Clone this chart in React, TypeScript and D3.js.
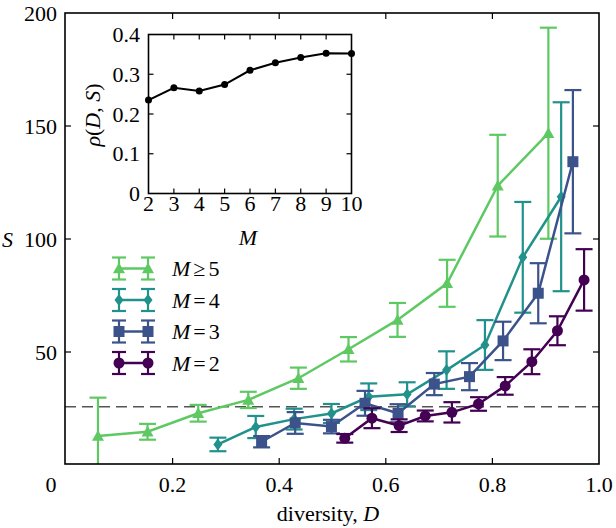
import React from "react";
import * as d3 from "d3";

// ---- Data ----
const seriesNames = ["M≥5", "M=4", "M=3", "M=2"];

const d5 = [0.06, 0.153, 0.248, 0.342, 0.436, 0.530, 0.622, 0.715, 0.810, 0.905];
const s5 = [12.8, 14.7, 22.9, 28.8, 38.4, 51.2, 64.2, 80.4, 123.6, 146.8];
const e5 = [17, 3.5, 3.7, 3.6, 4.7, 5.4, 7.5, 10.4, 22.5, 46.7];

const d4 = [0.285, 0.356, 0.428, 0.498, 0.568, 0.640, 0.714, 0.786, 0.857, 0.929];
const s4 = [9.1, 16.8, 20.3, 22.8, 30.2, 31.3, 42.0, 53.1, 91.9, 118.7];
const e4 = [3.0, 4.9, 4.6, 4.2, 5.9, 5.3, 8.3, 11.0, 24.5, 41.8];

const d3v = [0.367, 0.430, 0.498, 0.561, 0.623, 0.691, 0.757, 0.820, 0.886, 0.951];
const s3 = [10.3, 18.6, 17.0, 27.3, 22.9, 35.8, 39.1, 54.9, 76.0, 134.2];
const e3 = [2.5, 4.8, 3.0, 5.5, 4.0, 4.9, 6.0, 8.5, 13.3, 31.7];

const d2 = [0.523, 0.574, 0.625, 0.674, 0.724, 0.774, 0.824, 0.874, 0.922, 0.972];
const s2 = [11.8, 20.7, 17.4, 21.7, 23.3, 27.0, 35.0, 45.7, 59.4, 81.9];
const e2 = [1.9, 4.4, 2.8, 2.4, 4.5, 3.0, 3.9, 5.5, 6.4, 13.6];

const refLine = 25.8;

const insetM = [2, 3, 4, 5, 6, 7, 8, 9, 10];
const insetRho = [0.235, 0.266, 0.258, 0.274, 0.310, 0.329, 0.342, 0.353, 0.352];

const xTicks = [0.2, 0.4, 0.6, 0.8, 1.0];
const xTickLabels = ["0.2", "0.4", "0.6", "0.8", "1.0"];
const yTicks = [50, 100, 150, 200];
const insetYTicks = [0, 0.1, 0.2, 0.3, 0.4];
const insetYTickLabels = ["0", "0.1", "0.2", "0.3", "0.4"];

const colors = ["#5ec962", "#21918c", "#3b528b", "#440154"];
const markers = ["triangle", "diamond", "square", "circle"];

const FONT = "Liberation Serif, Times New Roman, serif";

function Marker({ type, x, y, color }: { type: string; x: number; y: number; color: string }) {
  if (type === "circle") return <circle cx={x} cy={y} r={5.5} fill={color} />;
  if (type === "square") return <rect x={x - 5.5} y={y - 5.5} width={11} height={11} fill={color} />;
  if (type === "diamond") {
    const r = 6;
    return <path d={`M${x},${y - r}L${x + r * 0.75},${y}L${x},${y + r}L${x - r * 0.75},${y}Z`} fill={color} />;
  }
  const r = 6;
  return <path d={`M${x},${y - r}L${x + r},${y + r * 0.8}L${x - r},${y + r * 0.8}Z`} fill={color} />;
}

export default function App() {
  const W = 616, H = 528;
  const L = 65, T = 13, R = 599, B = 464;
  const x = d3.scaleLinear().domain([0, 1]).range([66, 599]);
  const y = d3.scaleLinear().domain([0, 200]).range([465, 13]);

  const ix = d3.scaleLinear().domain([2, 10]).range([148.5, 351.5]);
  const iy = d3.scaleLinear().domain([0, 0.4]).range([193.5, 34.5]);

  const series = [
    { d: d5, s: s5, e: e5 },
    { d: d4, s: s4, e: e4 },
    { d: d3v, s: s3, e: e3 },
    { d: d2, s: s2, e: e2 },
  ];

  const line = d3.line<[number, number]>().x((p) => x(p[0])).y((p) => y(p[1]));
  const iline = d3.line<[number, number]>().x((p) => ix(p[0])).y((p) => iy(p[1]));
  const cap = 8.5;
  const lcap = 7;
  const tk = 6;
  const fs = 22;
  const dy = 7.5;

  const legendRows = [268.5, 300, 331.5, 363];

  return (
    <svg width={W} height={H} style={{ position: "absolute", left: 0, top: 0, fontFamily: FONT }}>
      <defs>
        <clipPath id="plotclip">
          <rect x={L} y={T} width={R - L} height={B - T} />
        </clipPath>
      </defs>
      <rect x={0} y={0} width={W} height={H} fill="white" />

      {/* dashed reference */}
      <line x1={L} x2={R} y1={y(refLine)} y2={y(refLine)} stroke="#555" strokeWidth={1.6} strokeDasharray="11,6" />

      {/* series */}
      <g clipPath="url(#plotclip)">
        {series.map((sr, i) => {
          const pts = sr.d.map((dv, j) => [dv, sr.s[j]] as [number, number]);
          return (
            <g key={i}>
              {sr.d.map((dv, j) => {
                const cx = x(dv);
                const y1 = y(sr.s[j] + sr.e[j]);
                const y0 = y(sr.s[j] - sr.e[j]);
                return (
                  <g key={j} stroke={colors[i]} strokeWidth={2.2}>
                    <line x1={cx} x2={cx} y1={y1} y2={y0} />
                    <line x1={cx - cap} x2={cx + cap} y1={y1} y2={y1} />
                    <line x1={cx - cap} x2={cx + cap} y1={y0} y2={y0} />
                  </g>
                );
              })}
              <path d={line(pts) || ""} fill="none" stroke={colors[i]} strokeWidth={2.5} />
              {pts.map((p, j) => (
                <Marker key={j} type={markers[i]} x={x(p[0])} y={y(p[1])} color={colors[i]} />
              ))}
            </g>
          );
        })}
      </g>

      {/* main frame */}
      <rect x={L} y={T} width={R - L} height={B - T} fill="none" stroke="#000" strokeWidth={1.6} />
      {xTicks.slice(0, 4).map((t) => (
        <g key={t} stroke="#000" strokeWidth={1.2}>
          <line x1={x(t)} x2={x(t)} y1={B} y2={B - tk} />
          <line x1={x(t)} x2={x(t)} y1={T} y2={T + tk} />
        </g>
      ))}
      {yTicks.slice(0, 3).map((t) => (
        <g key={t} stroke="#000" strokeWidth={1.2}>
          <line x1={L} x2={L + tk} y1={y(t)} y2={y(t)} />
          <line x1={R} x2={R - tk} y1={y(t)} y2={y(t)} />
        </g>
      ))}
      {xTicks.map((t, i) => (
        <text key={t} x={x(t)} y={491.5} fontSize={fs} textAnchor="middle">
          {xTickLabels[i]}
        </text>
      ))}
      <text x={51} y={491.5} fontSize={fs} textAnchor="middle">0</text>
      {yTicks.map((t) => (
        <text key={t} x={57} y={y(t) + dy} fontSize={fs} textAnchor="end">
          {t}
        </text>
      ))}
      <text x={2} y={y(100) + dy} fontSize={fs} fontStyle="italic">S</text>
      <text x={328} y={521} fontSize={fs} textAnchor="middle">
        diversity, <tspan fontStyle="italic">D</tspan>
      </text>

      {/* legend */}
      {legendRows.map((ry, i) => {
        const xa = 119, xb = 148;
        return (
          <g key={i}>
            {[xa, xb].map((cx) => (
              <g key={cx} stroke={colors[i]} strokeWidth={2.2}>
                <line x1={cx} x2={cx} y1={ry - 11} y2={ry + 11} />
                <line x1={cx - lcap} x2={cx + lcap} y1={ry - 11} y2={ry - 11} />
                <line x1={cx - lcap} x2={cx + lcap} y1={ry + 11} y2={ry + 11} />
              </g>
            ))}
            <line x1={xa} x2={xb} y1={ry} y2={ry} stroke={colors[i]} strokeWidth={2.5} />
            <Marker type={markers[i]} x={xa} y={ry} color={colors[i]} />
            <Marker type={markers[i]} x={xb} y={ry} color={colors[i]} />
            <text x={172} y={ry + dy} fontSize={fs}>
              <tspan fontStyle="italic">M</tspan>
              <tspan dx={3}>{seriesNames[i].slice(1, 2)}</tspan>
              <tspan dx={3}>{seriesNames[i].slice(2)}</tspan>
            </text>
          </g>
        );
      })}

      {/* inset */}
      <rect x={ix(2)} y={iy(0.4)} width={ix(10) - ix(2)} height={iy(0) - iy(0.4)} fill="white" stroke="#000" strokeWidth={1.6} />
      {insetM.slice(1, -1).map((m) => (
        <g key={m} stroke="#000" strokeWidth={1.2}>
          <line x1={ix(m)} x2={ix(m)} y1={iy(0)} y2={iy(0) - 5} />
          <line x1={ix(m)} x2={ix(m)} y1={iy(0.4)} y2={iy(0.4) + 5} />
        </g>
      ))}
      {insetYTicks.slice(1, -1).map((t) => (
        <g key={t} stroke="#000" strokeWidth={1.2}>
          <line x1={ix(2)} x2={ix(2) + 5} y1={iy(t)} y2={iy(t)} />
          <line x1={ix(10)} x2={ix(10) - 5} y1={iy(t)} y2={iy(t)} />
        </g>
      ))}
      {insetM.map((m) => (
        <text key={m} x={ix(m)} y={211} fontSize={fs} textAnchor="middle">{m}</text>
      ))}
      {insetYTicks.map((t, i) => (
        <text key={t} x={140} y={iy(t) + dy} fontSize={fs} textAnchor="end">{insetYTickLabels[i]}</text>
      ))}
      <text x={248} y={245} fontSize={fs} fontStyle="italic" textAnchor="middle">M</text>
      <text transform={`translate(100,115) rotate(-90)`} fontSize={fs} textAnchor="middle">
        <tspan fontStyle="italic">ρ</tspan>(<tspan fontStyle="italic">D</tspan>, <tspan fontStyle="italic">S</tspan>)
      </text>
      <path
        d={iline(insetM.map((m, i) => [m, insetRho[i]] as [number, number])) || ""}
        fill="none"
        stroke="#000"
        strokeWidth={2}
      />
      {insetM.map((m, i) => (
        <circle key={m} cx={ix(m)} cy={iy(insetRho[i])} r={3.5} fill="#000" />
      ))}
    </svg>
  );
}
